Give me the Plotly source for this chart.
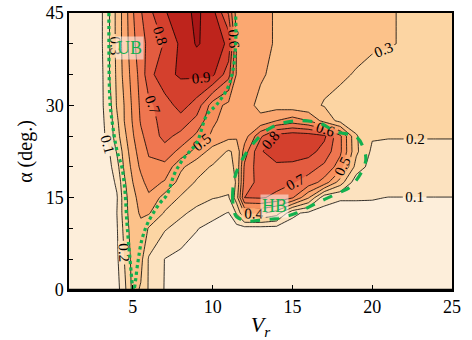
import plotly.graph_objects as go

# --- data -------------------------------------------------------------
VR = [1, 2, 3, 3.5, 4, 4.5, 5, 5.5, 6, 7, 8, 9, 10, 11, 11.5, 12, 13, 14, 15,
      16, 17, 18, 19, 20, 21, 22, 23, 24, 25]
ALPHA = [0, 5, 10, 12.5, 15, 17.5, 20, 22.5, 25, 27.5, 30, 35, 40, 45]

Z_A0 = [0.0, 0.0, 0.01, 0.02, 0.06, 0.18, 0.33, 0.29, 0.19, 0.095, 0.06, 0.045, 0.04, 0.035, 0.035, 0.03,
        0.03, 0.03, 0.03, 0.03, 0.03, 0.03, 0.03, 0.03, 0.03, 0.03, 0.03, 0.03, 0.03]
Z_A5 = [0.0, 0.0, 0.01, 0.02, 0.08, 0.21, 0.34, 0.33, 0.19, 0.098, 0.07, 0.055, 0.05, 0.045, 0.045, 0.045,
        0.045, 0.045, 0.045, 0.045, 0.045, 0.045, 0.045, 0.05, 0.05, 0.05, 0.05, 0.05, 0.05]
Z_A10 = [0.0, 0.0, 0.01, 0.03, 0.09, 0.24, 0.36, 0.38, 0.29, 0.21, 0.16, 0.105, 0.07, 0.06, 0.06, 0.06,
         0.06, 0.06, 0.06, 0.06, 0.06, 0.065, 0.065, 0.07, 0.07, 0.07, 0.07, 0.07, 0.07]
Z_A12 = [0.0, 0.0, 0.01, 0.03, 0.1, 0.26, 0.37, 0.41, 0.41, 0.29, 0.22, 0.17, 0.13, 0.095, 0.21, 0.41,
         0.42, 0.35, 0.12, 0.08, 0.075, 0.08, 0.08, 0.085, 0.085, 0.085, 0.085, 0.085, 0.085]
Z_A15 = [0.0, 0.0, 0.01, 0.04, 0.09, 0.27, 0.37, 0.44, 0.48, 0.36, 0.29, 0.24, 0.205, 0.19, 0.35, 0.7,
         0.71, 0.68, 0.61, 0.41, 0.13, 0.105, 0.105, 0.103, 0.099, 0.099, 0.099, 0.099, 0.099]
Z_A17 = [0.0, 0.0, 0.02, 0.05, 0.12, 0.29, 0.4, 0.47, 0.54, 0.49, 0.36, 0.29, 0.25, 0.24, 0.31, 0.64,
         0.74, 0.73, 0.71, 0.66, 0.56, 0.35, 0.14, 0.13, 0.125, 0.125, 0.125, 0.125, 0.125]
Z_A20 = [0.0, 0.0, 0.03, 0.07, 0.16, 0.33, 0.43, 0.52, 0.58, 0.57, 0.42, 0.34, 0.29, 0.27, 0.32, 0.62,
         0.76, 0.78, 0.77, 0.74, 0.68, 0.55, 0.26, 0.155, 0.15, 0.15, 0.15, 0.15, 0.15]
Z_A22 = [0.0, 0.01, 0.05, 0.09, 0.21, 0.35, 0.46, 0.55, 0.61, 0.66, 0.57, 0.46, 0.36, 0.29, 0.32, 0.55,
         0.79, 0.85, 0.86, 0.84, 0.76, 0.62, 0.32, 0.18, 0.178, 0.178, 0.178, 0.178, 0.178]
Z_A25 = [0.0, 0.01, 0.07, 0.13, 0.26, 0.38, 0.49, 0.58, 0.64, 0.73, 0.67, 0.58, 0.48, 0.43, 0.42, 0.45,
         0.68, 0.84, 0.87, 0.86, 0.82, 0.62, 0.31, 0.21, 0.205, 0.205, 0.205, 0.205, 0.205]
Z_A27 = [0.0, 0.015, 0.075, 0.14, 0.28, 0.41, 0.51, 0.61, 0.66, 0.74, 0.76, 0.67, 0.52, 0.45, 0.44, 0.42,
         0.42, 0.5, 0.55, 0.5, 0.36, 0.27, 0.24, 0.23, 0.225, 0.225, 0.225, 0.225, 0.225]
Z_A30 = [0.0, 0.02, 0.08, 0.15, 0.31, 0.41, 0.52, 0.62, 0.68, 0.75, 0.84, 0.76, 0.55, 0.47, 0.46, 0.43,
         0.38, 0.36, 0.34, 0.32, 0.295, 0.28, 0.265, 0.25, 0.24, 0.24, 0.24, 0.24, 0.24]
Z_A35 = [0.0, 0.02, 0.07, 0.19, 0.32, 0.44, 0.54, 0.64, 0.76, 0.88, 0.91, 0.92, 0.92, 0.74, 0.49, 0.45,
         0.41, 0.38, 0.35, 0.33, 0.32, 0.31, 0.295, 0.28, 0.27, 0.26, 0.255, 0.25, 0.25]
Z_A40 = [0.0, 0.02, 0.08, 0.19, 0.33, 0.45, 0.57, 0.67, 0.72, 0.81, 0.92, 1.01, 0.96, 0.88, 0.49, 0.45,
         0.43, 0.39, 0.37, 0.355, 0.345, 0.335, 0.32, 0.31, 0.305, 0.295, 0.27, 0.26, 0.26]
Z_A45 = [0.0, 0.02, 0.08, 0.19, 0.33, 0.45, 0.59, 0.69, 0.77, 0.89, 0.96, 1.02, 0.94, 0.69, 0.46, 0.44,
         0.43, 0.39, 0.37, 0.36, 0.35, 0.34, 0.33, 0.32, 0.31, 0.29, 0.27, 0.26, 0.26]

Z = [Z_A0, Z_A5, Z_A10, Z_A12, Z_A15, Z_A17, Z_A20, Z_A22, Z_A25, Z_A27, Z_A30, Z_A35, Z_A40, Z_A45]

# boundary curves
UB_VR = [3.5, 3.56, 3.69, 4.0, 4.31, 4.5, 4.63, 4.81, 5.05, 5.31, 5.56, 5.94, 6.69, 7.13,
         7.63, 8.25, 9.0, 9.63, 10.25, 10.94, 11.25, 11.44, 11.44]
UB_ALPHA = [45, 30.9, 27.6, 22.7, 20, 16.2, 10.9, 5.4, 0.0, 4.4, 8.1, 10.9, 14.1, 15.4,
            19, 21.6, 23.9, 28.4, 30.1, 32.8, 35.4, 39.8, 45]
HB_VR = [11.375, 11.25, 11.4, 11.9, 12.75, 13.75, 15.25, 16.7, 17.75, 19.0, 19.5, 19.6, 19.3,
         18.6, 17.9, 16.5, 15.25, 14.2, 13.1, 12.1, 11.5, 11.375]
HB_ALPHA = [12.5, 15.1, 18.4, 21.4, 24.4, 26.5, 27.5, 27.1, 25.7, 24.9, 22.7, 21.1, 19.0,
            16.7, 15.8, 14.1, 12.5, 11.7, 11.4, 11.2, 11.9, 12.5]

BAND_COLORS = ["#FDEEDA", "#FCE2BF", "#FCD5A3", "#FCC28A", "#FBA871", "#F78F5C",
               "#EF7650", "#E35C40", "#D4402D", "#BE241C", "#A81616"]

SERIF = "Liberation Serif, Times New Roman, serif"
GREEN = "#12B04E"

n = len(BAND_COLORS)
colorscale = [[i / (n - 1), c] for i, c in enumerate(BAND_COLORS)]

fig = go.Figure()
fig.add_trace(go.Contour(
    x=VR, y=ALPHA, z=Z,
    zmin=0.05, zmax=1.05, zauto=False,
    colorscale=colorscale, showscale=False,
    contours=dict(start=0.1, end=1.0, size=0.1, coloring="fill",
                  showlabels=True,
                  labelfont=dict(family=SERIF, size=15, color="black")),
    line=dict(color="black", width=0.8, smoothing=0),
    hoverinfo="skip",
))
fig.add_trace(go.Scatter(x=UB_VR, y=UB_ALPHA, mode="lines",
                         line=dict(color=GREEN, width=3.2, dash="dot", shape="spline"),
                         hoverinfo="skip", showlegend=False))
fig.add_trace(go.Scatter(x=HB_VR, y=HB_ALPHA, mode="lines",
                         line=dict(color=GREEN, width=3.2, dash="dash", shape="spline"),
                         hoverinfo="skip", showlegend=False))

fig.add_annotation(x=4.8, y=39.3, text="UB", showarrow=False,
                   font=dict(family=SERIF, size=18, color=GREEN),
                   bgcolor="rgba(255,255,255,0.5)", borderpad=1)
fig.add_annotation(x=13.9, y=13.6, text="HB", showarrow=False,
                   font=dict(family=SERIF, size=18, color=GREEN),
                   bgcolor="rgba(255,255,255,0.5)", borderpad=1)

fig.update_layout(
    width=472, height=340,
    margin=dict(l=69, r=20, t=13, b=50, autoexpand=False),
    paper_bgcolor="white", plot_bgcolor="white",
    showlegend=False,
    font=dict(family=SERIF, size=17, color="black"),
    xaxis=dict(range=[1, 25], tickvals=[5, 10, 15, 20, 25], ticks="inside", ticklen=5,
               tickcolor="black", showline=True, linecolor="black", linewidth=1.5,
               mirror=True, showgrid=False, zeroline=False, automargin=False,
               tickfont=dict(family=SERIF, size=18),
               title=dict(text="<i>V<sub>r</sub></i>", font=dict(family=SERIF, size=22),
                          standoff=2)),
    yaxis=dict(range=[0, 45], tickvals=[0, 15, 30, 45], ticks="inside", ticklen=5,
               tickcolor="black", showline=True, linecolor="black", linewidth=1.5,
               mirror=True, showgrid=False, zeroline=False, automargin=False,
               minor=dict(dtick=5, ticks="inside", ticklen=4, tickcolor="black"),
               tickfont=dict(family=SERIF, size=18),
               title=dict(text="α (deg.)", font=dict(family=SERIF, size=20),
                          standoff=8)),
    shapes=[dict(type="line", xref="paper", yref="paper", x0=0, x1=1, y0=0, y1=0,
                 line=dict(color="black", width=2.5))],
)

fig.write_html("out.html", config={"displayModeBar": False},
               post_script="document.body.style.margin='0';")
